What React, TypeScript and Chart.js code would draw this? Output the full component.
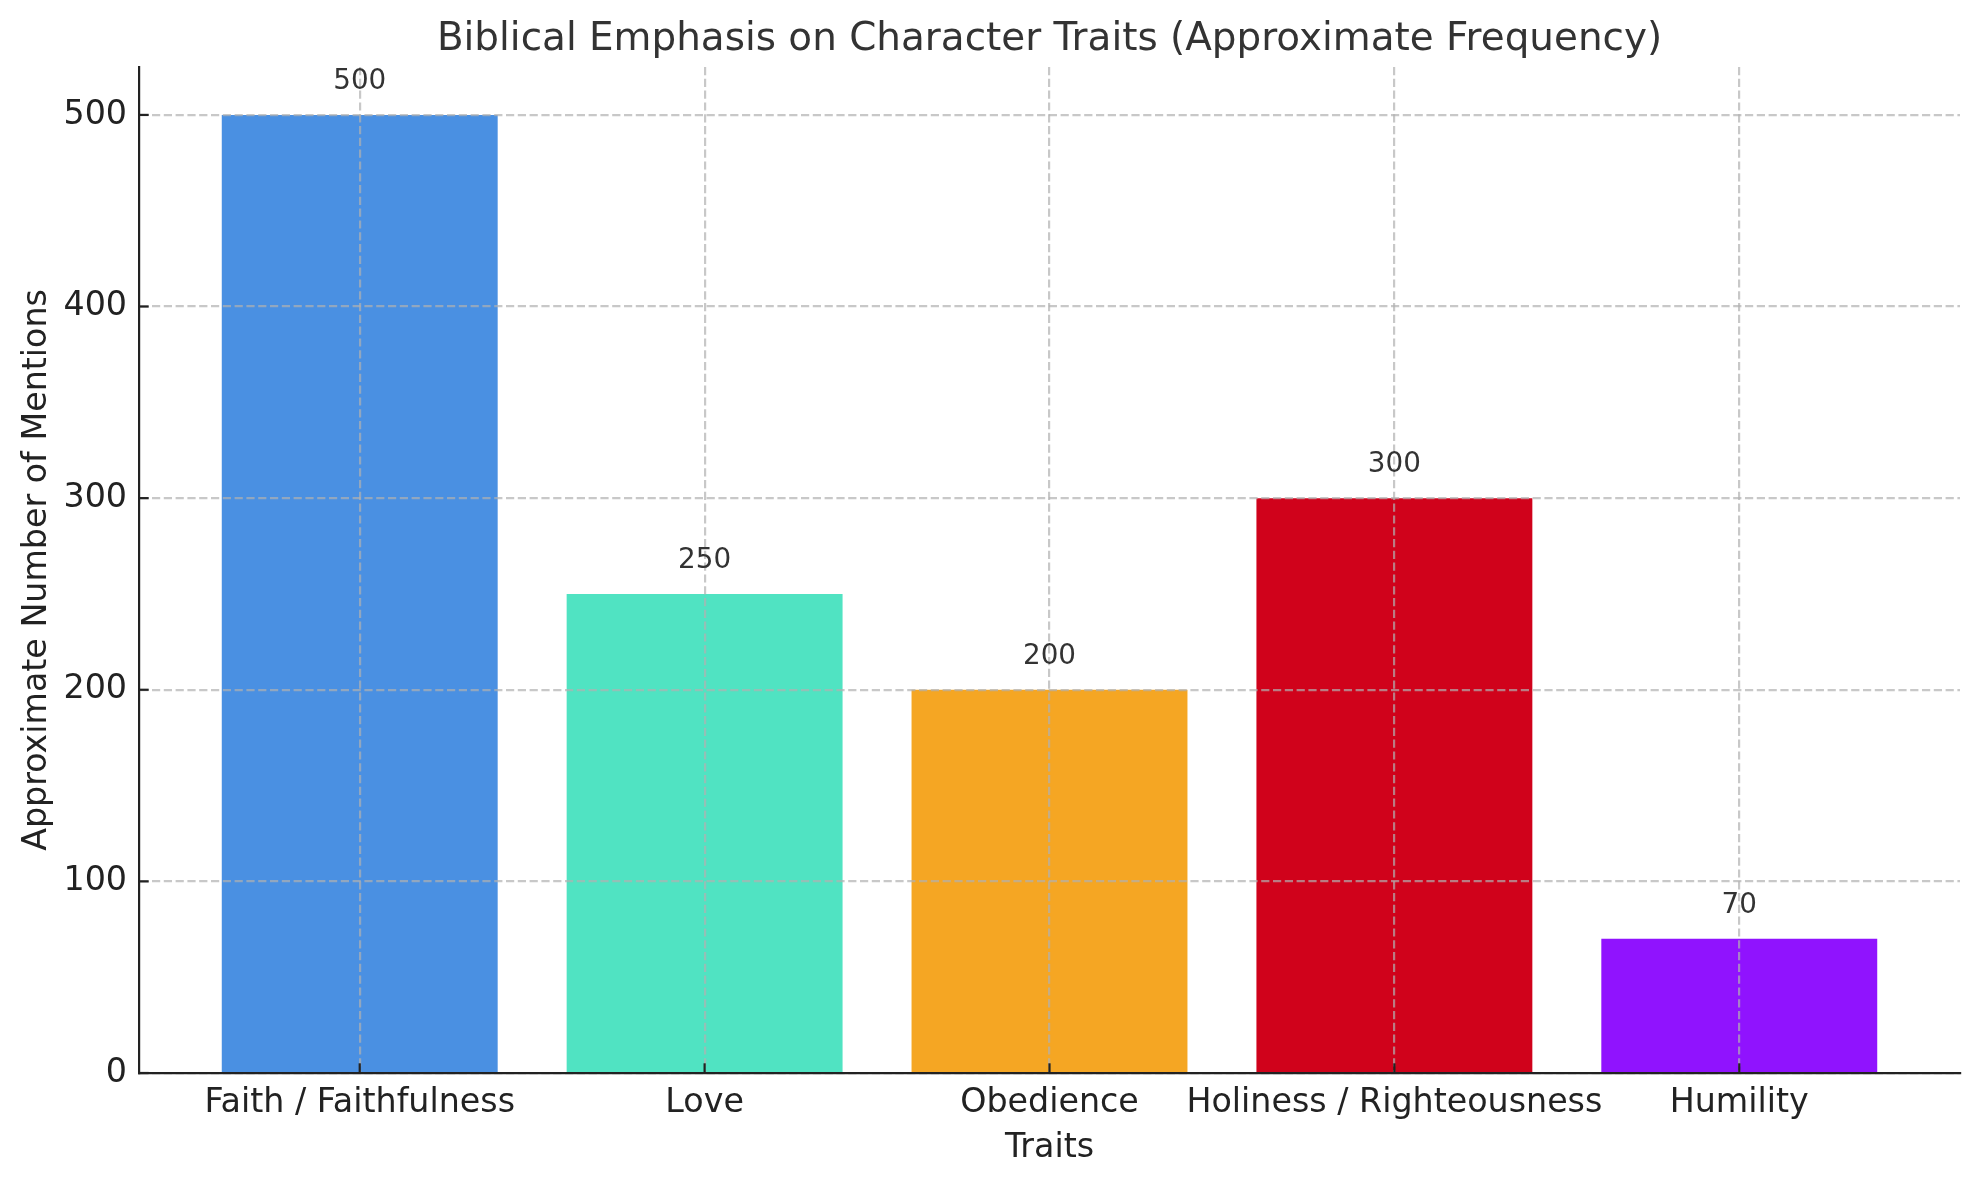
import React, { useEffect, useRef } from "react";
import { Chart, registerables } from "chart.js";

Chart.register(...registerables);

const categories = [
  "Faith / Faithfulness",
  "Love",
  "Obedience",
  "Holiness / Righteousness",
  "Humility",
];
const values = [500, 250, 200, 300, 70];
const barColors = ["#4A90E2", "#50E3C2", "#F5A623", "#D0021B", "#9013FE"];
const yTicks = [0, 100, 200, 300, 400, 500];
const titleText = "Biblical Emphasis on Character Traits (Approximate Frequency)";
const xLabel = "Traits";
const yLabel = "Approximate Number of Mentions";

const FONT = '"DejaVu Sans", "Liberation Sans", sans-serif';
const W = 1979;
const H = 1180;

const overlayPlugin = {
  id: "overlay",
  afterDraw(chart: any) {
    const { ctx, chartArea } = chart;
    const x = chart.scales.x;
    const y = chart.scales.y;
    ctx.save();
    // inward tick marks
    ctx.strokeStyle = "#222";
    ctx.lineWidth = 2.2;
    ctx.setLineDash([]);
    yTicks.forEach((v) => {
      const py = y.getPixelForValue(v);
      ctx.beginPath();
      ctx.moveTo(chartArea.left, py);
      ctx.lineTo(chartArea.left + 9.7, py);
      ctx.stroke();
    });
    categories.forEach((_, i) => {
      const px = x.getPixelForValue(i);
      ctx.beginPath();
      ctx.moveTo(px, chartArea.bottom);
      ctx.lineTo(px, chartArea.bottom - 9.7);
      ctx.stroke();
    });
    // value labels
    ctx.fillStyle = "#333";
    ctx.textAlign = "center";
    ctx.textBaseline = "alphabetic";
    ctx.font = `27.8px ${FONT}`;
    values.forEach((v, i) => {
      ctx.fillText(String(v), x.getPixelForValue(i), y.getPixelForValue(v) - 26);
    });
    const cx = (chartArea.left + chartArea.right) / 2;
    // title
    ctx.font = `38.9px ${FONT}`;
    ctx.fillStyle = "#333";
    ctx.fillText(titleText, cx, chartArea.top - 17);
    // x label
    ctx.font = `33.3px ${FONT}`;
    ctx.fillStyle = "#222";
    ctx.fillText(xLabel, cx, 1157);
    // y label
    const cy = (chartArea.top + chartArea.bottom) / 2;
    ctx.translate(46, cy);
    ctx.rotate(-Math.PI / 2);
    ctx.fillText(yLabel, 0, 0);
    ctx.restore();
  },
};

export default function App() {
  const ref = useRef<HTMLCanvasElement | null>(null);
  useEffect(() => {
    document.body.style.margin = "0";
    const canvas = ref.current;
    if (!canvas) return;
    const gridColor = "rgba(176,176,176,0.7)";
    const chart = new Chart(canvas, {
      type: "bar",
      data: {
        datasets: [
          {
            data: categories.map((_, i) => ({ x: i, y: values[i] })),
            backgroundColor: barColors,
            borderWidth: 0,
            barPercentage: 0.8,
            categoryPercentage: 1.0,
          },
        ],
      },
      options: {
        animation: false,
        responsive: false,
        devicePixelRatio: 1,
        layout: { padding: { top: 67, right: 19, left: 0, bottom: 0 } },
        plugins: {
          legend: { display: false },
          tooltip: { enabled: false },
          title: { display: false },
        },
        scales: {
          x: {
            type: "linear",
            min: -0.64,
            max: 4.64,
            offset: false,
            afterBuildTicks: (scale: any) => {
              scale.ticks = categories.map((_, i) => ({ value: i }));
            },
            afterFit: (scale: any) => {
              scale.height = H - 1073;
            },
            ticks: {
              callback: (v: any) => categories[Math.round(Number(v))] ?? "",
              font: { family: FONT, size: 33.3 },
              color: "#222",
              padding: 10,
              maxRotation: 0,
              autoSkip: false,
            },
            grid: {
              offset: false,
              color: gridColor,
              lineWidth: 2.2,
              drawTicks: false,
              z: 1,
            },
            border: { display: true, color: "#222", width: 2.2, dash: [8.2, 3.6], z: 2 },
          },
          y: {
            type: "linear",
            min: 0,
            max: 525,
            afterBuildTicks: (scale: any) => {
              scale.ticks = yTicks.map((v) => ({ value: v }));
            },
            afterFit: (scale: any) => {
              scale.width = 139;
            },
            ticks: {
              font: { family: FONT, size: 33.3 },
              color: "#222",
              padding: 12,
            },
            grid: {
              color: gridColor,
              lineWidth: 2.2,
              drawTicks: false,
              z: 1,
            },
            border: { display: true, color: "#222", width: 2.2, dash: [8.2, 3.6], z: 2 },
          },
        },
      } as any,
      plugins: [overlayPlugin],
    });
    return () => chart.destroy();
  }, []);
  return <canvas ref={ref} width={W} height={H} style={{ display: "block", width: W, height: H }} />;
}
